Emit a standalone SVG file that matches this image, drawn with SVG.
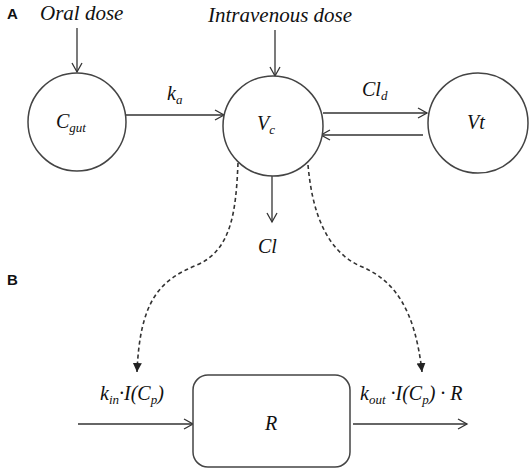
<svg xmlns="http://www.w3.org/2000/svg" width="529" height="471" viewBox="0 0 529 471">
<style>
.node{fill:#fff;stroke:#444;stroke-width:1.5}
.ln{fill:none;stroke:#333;stroke-width:1.3}
.dash{fill:none;stroke:#333;stroke-width:1.6;stroke-dasharray:4 3}
.t{font-family:"Liberation Serif","Times New Roman",serif;font-style:italic;fill:#111}
.lab{font-family:"Liberation Sans",Arial,sans-serif;font-weight:bold;font-size:15px;fill:#111}
.sub{font-size:13px}
</style>
<defs>
<marker id="open" markerWidth="12" markerHeight="12" refX="10" refY="6" orient="auto" markerUnits="userSpaceOnUse"><path d="M1,1 L10,6 L1,11" fill="none" stroke="#333" stroke-width="1.3"/></marker>
<marker id="tri" markerWidth="10" markerHeight="10" refX="9" refY="5" orient="auto" markerUnits="userSpaceOnUse"><path d="M0,0.5 L9,5 L0,9.5 z" fill="#222"/></marker>
</defs>
<rect width="529" height="471" fill="#fff"/>
<text class="lab" x="7" y="19">A</text>
<text class="lab" x="7" y="285">B</text>
<text class="t" x="40" y="20" font-size="21">Oral dose</text>
<text class="t" x="208" y="22" font-size="21">Intravenous dose</text>
<g id="connectors">
<line class="ln" x1="77" y1="28" x2="77" y2="72" marker-end="url(#open)"/>
<line class="ln" x1="275" y1="30" x2="275" y2="76" marker-end="url(#open)"/>
<line class="ln" x1="126" y1="115" x2="224" y2="115" marker-end="url(#open)"/>
<line class="ln" x1="323" y1="113" x2="427" y2="113" marker-end="url(#open)"/>
<line class="ln" x1="423" y1="135" x2="321" y2="135" marker-end="url(#open)"/>
<line class="ln" x1="272" y1="176" x2="272" y2="222" marker-end="url(#open)"/>
<path class="dash" d="M238,163 C236,210 232,250 197,265 C160,280 140,300 137,372" marker-end="url(#tri)"/>
<path class="dash" d="M308,165 C312,210 325,250 360,266 C395,280 415,310 422,372" marker-end="url(#tri)"/>
<line class="ln" x1="78" y1="424" x2="193" y2="424" marker-end="url(#open)"/>
<line class="ln" x1="353" y1="424" x2="467" y2="424" marker-end="url(#open)"/>
<text class="t" x="167" y="100" font-size="20">k<tspan class="sub" dy="4">a</tspan></text>
<text class="t" x="362" y="96" font-size="20">Cl<tspan class="sub" dy="4">d</tspan></text>
<text class="t" x="258" y="253" font-size="20">Cl</text>
<text class="t" x="100" y="400" font-size="20">k<tspan class="sub" dy="4">in</tspan><tspan dy="-4">·I(C</tspan><tspan class="sub" dy="4">p</tspan><tspan dy="-4">)</tspan></text>
<text class="t" x="360" y="400" font-size="20">k<tspan class="sub" dy="4">out</tspan><tspan dy="-4"> ·I(C</tspan><tspan class="sub" dy="4">p</tspan><tspan dy="-4">) · R</tspan></text>
</g>
<g id="Cgut"><circle class="node" cx="77" cy="122" r="49"/><text class="t" x="56" y="128" font-size="20">C<tspan class="sub" dy="4">gut</tspan></text></g>
<g id="Vc"><circle class="node" cx="273" cy="126" r="50"/><text class="t" x="257" y="130" font-size="20">V<tspan class="sub" dy="4">c</tspan></text></g>
<g id="Vt"><circle class="node" cx="478" cy="123" r="50"/><text class="t" x="476" y="129" font-size="20" text-anchor="middle">Vt</text></g>
<g id="R"><rect class="node" x="193" y="375" width="157" height="92" rx="15"/><text class="t" x="271" y="430" font-size="20" text-anchor="middle">R</text></g>
</svg>
